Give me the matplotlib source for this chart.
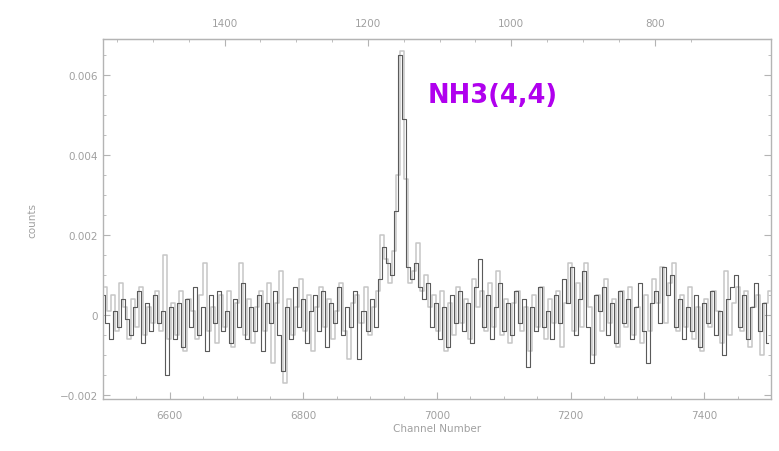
import numpy as np
import matplotlib.pyplot as plt
from matplotlib.ticker import MultipleLocator, FixedLocator, FuncFormatter

# ------------ data ------------
# spectrum values in units of 1e-4 counts, two interleaved traces (6-channel steps)
dark_start = 6500
dark_vals = [
    5, -2, -6, 1, -3, 4, -1, -5, 2, 6, -7, 3, -4, 5, -2, 1, -15, 2, -6, 3,
    -8, 4, -3, 7, -5, 2, -9, 5, -2, 6, -4, 1, -7, 4, -3, 8, -6, 2, -4, 5,
    -9, 3, -2, 6, -5, -14, 2, -6, 7, -3, 4, -7, 1, 5, -4, 6, -8, 3, -2, 7,
    -5, 2, -3, 6, -11, 1, -4, 4, -3, 9, 17, 13, 10, 26, 65, 49, 12, 9, 13, 7,
    4, 8, -3, 3, -6, 2, -8, 5, -2, 6, -4, 3, -7, 7, 14, -3, 5, -6, 2, 8,
    -4, 3, -5, 6, -2, 4, -13, 2, -4, 7, -3, 1, -6, 5, -2, 9, 3, 12, -5, 4,
    11, -3, -12, 5, 1, 7, -5, 3, -7, 6, -2, 4, -6, 2, 8, -4, -12, 3, 6, -2,
    12, 5, 10, -3, 4, -6, 2, -4, 5, -8, 3, -2, 6, -5, 1, -10, 4, 7, 10, -3,
    5, -6, 2, 8, -4, 3, -7,
]
light_start = 6503
light_vals = [
    7, 1, 5, -4, 8, 2, -6, 4, -3, 7, -5, 2, -2, 6, -4, 15, -6, 3, -5, 6,
    -9, 4, 1, -6, 5, 13, -4, 2, -7, 5, -3, 6, -8, 3, 13, -5, 4, -7, 2, 6,
    -4, 8, -12, 3, 11, -17, 4, -5, 2, 9, -4, 5, -9, 2, 7, -3, 4, -6, 1, 8,
    -4, -11, 3, 5, -2, 7, -5, 2, 6, 20, 14, 8, 16, 35, 66, 34, 8, 11, 18, 6,
    10, 2, 5, -4, 6, -9, 3, -5, 7, -2, 4, -6, 9, 2, 6, -4, 8, -3, 11, -5,
    4, -7, 3, 6, -4, 2, -9, 5, -3, 7, -6, 4, -2, 6, -8, 3, 13, -4, 8, -3,
    13, 2, -10, 5, -4, 9, -2, 4, -8, 6, -3, 7, -5, 2, -7, 5, -4, 9, 3, 12,
    -2, 8, 13, -4, 5, -3, 7, -6, 2, -9, 4, -3, 6, 1, -7, 11, -5, 3, 7, -4,
    6, -8, 2, 5, -10, 3, 6,
]
step = 6

vel_major = [1400, 1200, 1000, 800]

dark_ch = dark_start + step * np.arange(len(dark_vals))
light_ch = light_start + step * np.arange(len(light_vals))
dark_y = np.array(dark_vals) * 1e-4
light_y = np.array(light_vals) * 1e-4

# channel -> velocity (km/s) for the top axis
v_ref, ch_ref, dv = 1400.0, 6682.0, -0.9317

def ch2vel(c):
    return v_ref + (c - ch_ref) * dv

def vel2ch(v):
    return ch_ref + (v - v_ref) / dv

# ------------ plotting ------------
fig = plt.figure(figsize=(7.79, 4.52), dpi=100)
ax = fig.add_axes([0.1322, 0.115, 0.8575, 0.7965])

ax.plot(light_ch, light_y, drawstyle='steps-mid', color='#c6c6c6', lw=1.1)
ax.plot(dark_ch, dark_y, drawstyle='steps-mid', color='#5a5a5a', lw=0.8)

ax.set_xlim(6500, 7500)
ax.set_ylim(-0.0021, 0.0069)

frame = '#b4b4b4'
txt = '#a0a0a0'
for s in ax.spines.values():
    s.set_color(frame)
    s.set_linewidth(1.0)

ax.xaxis.set_major_locator(MultipleLocator(200))
ax.xaxis.set_minor_locator(MultipleLocator(50))
ax.yaxis.set_major_locator(MultipleLocator(0.002))
ax.yaxis.set_minor_locator(MultipleLocator(0.0005))
ax.yaxis.set_major_formatter(FuncFormatter(lambda v, p: '0' if abs(v) < 1e-12 else f'{v:.3f}'.replace('-', '\u2212')))

ax.tick_params(which='both', direction='in', color=frame, labelcolor=txt,
               labelsize=7.5, top=False, right=True)
ax.tick_params(which='major', length=5)
ax.tick_params(which='minor', length=2.5)
ax.tick_params(axis='x', pad=8)

top = ax.secondary_xaxis('top', functions=(ch2vel, vel2ch))
top.xaxis.set_major_locator(FixedLocator(vel_major))
top.xaxis.set_minor_locator(FixedLocator(np.arange(750, 1551, 50)))
top.spines['top'].set_color(frame)
top.tick_params(which='both', direction='in', color=frame, labelcolor=txt,
                labelsize=7.5, pad=8)
top.tick_params(which='major', length=5)
top.tick_params(which='minor', length=2.5)

ax.set_xlabel('Channel Number', color=txt, fontsize=7.5, labelpad=2)
ax.set_ylabel('counts', color=txt, fontsize=7.5, labelpad=16)

ax.text(6986, 0.0055, 'NH3(4,4)', color='#b000ee', fontsize=18.5,
        fontweight='bold', family=['Liberation Sans Narrow', 'DejaVu Sans'],
        ha='left', va='center')

fig.savefig('out.png', dpi=100)
